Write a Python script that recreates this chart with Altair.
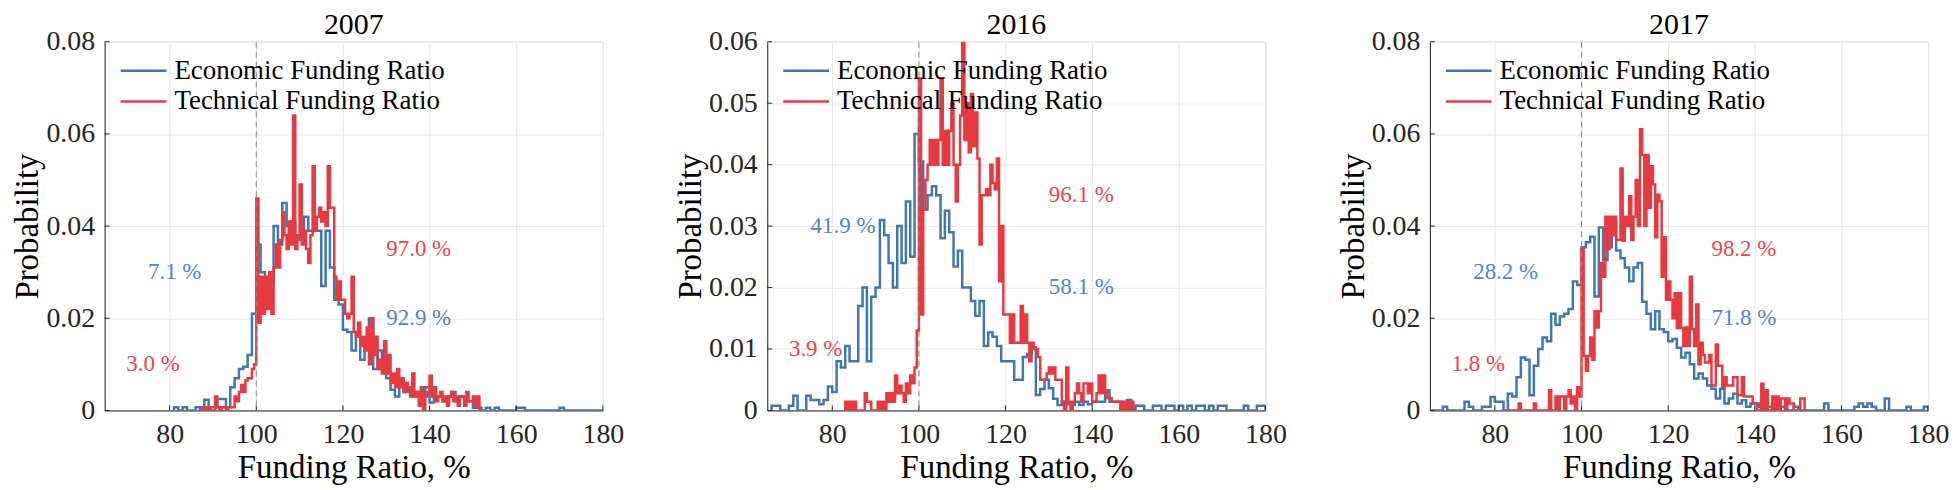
import altair as alt
import pandas as pd

FONT = "Liberation Serif"
BLUE = "#3f77b1"
RED = "#e63a40"
BLUE_TXT = "#4f86bf"
RED_TXT = "#ec434a"

years = ["2007", "2016", "2017"]
y_max = [0.08, 0.06, 0.08]
y_ticks = [[0, 0.02, 0.04, 0.06, 0.08],
           [0, 0.01, 0.02, 0.03, 0.04, 0.05, 0.06],
           [0, 0.02, 0.04, 0.06, 0.08]]
x_ticks = [80, 100, 120, 140, 160, 180]
x_domain = [65, 180]
series_names = ["Economic Funding Ratio", "Technical Funding Ratio"]

# histogram bin heights, in units of 0.001 (probability per bin)
econ_width = 1.0
tech_width = 0.5

econ_2007_start = 81
econ_2007 = [0.7, 0, 0.7, 0, 0, 0.7, 0, 2.3, 0.7, 0.7, 2.5, 2.5, 0.7, 5, 7, 9, 9.5, 12, 21,
             36, 30, 23, 28, 40, 36, 45, 40, 41, 38, 37, 42, 39, 39, 39, 27, 39, 31, 24, 23,
             17.5, 17, 13, 17, 11, 15, 20, 9, 13, 10,
             7, 4.5, 3, 6.7, 4, 5, 3, 4, 3, 5, 1.7, 3, 3, 2, 3, 4, 2, 3, 2, 2,
             0.6, 0.6, 0, 0.6, 0, 0.6, 0, 0, 0, 0, 0.6, 0.6, 0, 0, 0, 0, 0, 0, 0, 0,
             0.6, 0, 0, 0, 0, 0, 0, 0, 0, 0]
tech_2007_start = 87.5
tech_2007 = [0.7, 0.7, 0, 0.7, 0, 0, 3, 0.7, 0, 0.7, 0.7, 0, 0.7, 0.7, 0.7, 3, 2, 4, 5.5, 4,
             6.5, 7, 7, 9, 10,
             46, 19, 29, 21, 29, 22, 30, 21, 31, 36, 31, 37, 43, 38, 35, 41, 36, 64, 35, 38,
             49, 36, 39, 35, 32, 38, 53, 39, 42, 44, 41, 43, 40, 53, 44, 44,
             29, 24, 28, 24, 24, 21, 20, 21, 29, 17, 16, 19, 14, 16, 13, 18, 10, 20, 12, 16,
             9, 11, 8, 15, 8, 12, 6, 8, 5, 9, 5, 7, 4, 6, 5, 3, 8, 3, 4, 1,
             5, 0, 3, 4, 7.5, 3, 5, 2, 3, 4, 2, 3, 1, 3, 4, 2, 3, 1, 3, 3,
             1, 4, 2, 2, 3, 1, 3, 0]

econ_2016_start = 66
econ_2016 = [0.75, 0.75, 0, 0, 0.75, 2.4, 0, 0, 2.4, 1.7,
             1.7, 1, 1.7, 3.9, 3, 8, 7, 10.5, 8, 8,
             17, 20, 8, 18.5, 20, 31, 28.5, 24, 20, 30,
             24, 34, 25, 45,
             40.5, 32.7, 35, 36.5, 35, 28, 32.5, 29, 23.4, 26,
             20, 20, 17.8, 15.4, 17.8, 10.5, 12.7, 12, 10.5, 8,
             8, 8, 5, 5, 8.7, 9.2, 10.3, 2.5, 3.5, 5, 3.6, 1.9,
             0.9, 1.4, 1, 0.9, 1.4, 0.9, 1.4, 1, 1.4, 1.4,
             1.4, 3.3, 1.4, 1.4, 1.4, 0.75, 1.7, 0, 0.75, 0.75,
             0, 0, 0.75, 0.75, 0, 0.75, 0.75, 0, 0.75, 0,
             0.75, 0, 0.75, 0.75, 0, 0.75, 0, 0.75, 0.75, 0,
             0, 0, 0, 0.75, 0, 0, 0.75, 0.75]
tech_2016_start = 83
tech_2016 = [1.4, 0, 1.4, 0, 1.4, 0, 0, 0, 0, 2.8,
             1.4, 1.4, 0, 0, 0, 1.4, 0, 1.4, 0, 2.8,
             1.4, 2.8, 1.4, 5.7, 2.8, 4, 2.8, 1.4, 4.4, 2.8,
             5.7, 4.4, 7, 13,
             54, 15.6, 32.7, 37.5, 40, 44, 40, 44, 40, 44,
             54, 40, 45.5, 40, 45.5, 50, 40, 34, 40, 48,
             60, 44, 50, 42, 51.5, 43, 48.5, 41, 27, 35,
             35, 36, 35, 40, 37, 36, 41, 21, 30, 15.6,
             15.6, 15.6, 11, 15.6, 11, 11, 11, 17, 11, 15.6,
             11, 8, 11, 10, 10, 8.7, 5, 5, 5, 6,
             7, 6, 7, 5, 5, 5, 1.4, 0, 7, 1.4,
             0, 1.4, 2.8, 4.4, 2.8, 1.4, 4.4, 4.4, 2.8, 4.4,
             1.4, 1.4, 2.8, 5.7, 2.8, 5.7, 3, 2, 2, 1.4,
             1.4, 1.4, 1.4, 0, 1.4, 0, 1.4, 0, 1.4, 0]

econ_2017_start = 65
econ_2017 = [0, 0, 0, 0.8, 0, 0, 0, 0, 1.9, 0.8,
             0, 0, 0.8, 0.8, 2.9, 1.9, 1.9, 0, 3.6, 3,
             7.2, 11.5, 11, 3.3, 9.7, 13.3, 15.8, 15, 21, 18.6,
             20.4, 21, 22, 28, 27.2, 35.4, 36.5, 37.7, 24.7, 39.7,
             32.6, 35.4, 41, 34.7, 33, 31, 28, 31, 32, 23.6,
             21, 17.6, 21.5, 17.6, 17, 15, 15.5, 13.6, 11.5, 12.5,
             10, 6.9, 8, 6.9, 5.4, 4.7, 2.6, 4.7, 1.5, 2.6,
             3.6, 1.5, 2.2, 0.8, 1.5, 1.5, 0.8, 0, 0.8, 0.8,
             0.8, 0.8, 0, 0, 0.8, 0, 0, 0, 0, 0,
             0, 1.5, 0, 0, 0, 0, 0, 0, 0.8, 1.5,
             0.8, 1.5, 0.8, 0, 0, 2.6, 0, 0, 0, 0,
             0.8, 0, 0, 0, 0.8]
tech_2017_start = 82
tech_2017 = [0, 0, 0, 0, 0, 0, 0, 1.5, 0, 0,
             0, 0, 0, 0, 1.5, 0, 0, 0, 0, 0,
             0, 4.4, 0, 0, 3, 0, 3, 3, 0, 3,
             4.4, 1.5, 3, 0, 5, 3,
             35, 11.8, 8.6, 11.8, 15.8, 11, 21.5, 18, 21.5, 32,
             29, 42, 35, 42, 38, 42, 37, 37, 52.5, 36.8,
             42, 40, 46.5, 37, 42, 50, 40, 61, 55.4, 40,
             55.4, 44, 53, 49, 37.6, 46.8, 45.4, 29, 37.6, 24,
             28, 24, 20, 25.4, 17.9, 25.4, 17.9, 14, 18, 14,
             29, 17.6, 14, 23, 10, 14.7, 12, 10.4, 10.4, 12,
             5.4, 5.4, 14.3, 9.7, 9.7, 5, 7.2, 5.4, 5.4, 5.4,
             7.2, 7.2, 3.3, 3.3, 7.2, 3, 3, 3, 3, 1.5,
             1.5, 0, 0, 5.8, 0, 4.4, 0, 0, 3, 0,
             3, 0, 2.6, 2.6, 0, 2.6, 1.5, 1.5, 0, 0,
             0, 2.6, 2.6, 0]

econ_starts = [econ_2007_start, econ_2016_start, econ_2017_start]
econ_values = [econ_2007, econ_2016, econ_2017]
tech_starts = [tech_2007_start, tech_2016_start, tech_2017_start]
tech_values = [tech_2007, tech_2016, tech_2017]

# share annotations: below / above 100 %
note_texts = [["7.1 %", "3.0 %", "97.0 %", "92.9 %"],
              ["41.9 %", "3.9 %", "96.1 %", "58.1 %"],
              ["28.2 %", "1.8 %", "98.2 %", "71.8 %"]]
note_x = [75, 70, 130, 130]
note_y = [0.03, 0.01, 0.035, 0.02]
note_series = [0, 1, 1, 0]
threshold = 100

W, H = 500, 370


def stairs(start, width, heights, name):
    rows = [{"x": start, "y": 0.0, "series": name, "i": 0}]
    for k, h in enumerate(heights):
        rows.append({"x": start + k * width, "y": h / 1000.0, "series": name, "i": k + 1})
    rows.append({"x": start + len(heights) * width, "y": 0.0, "series": name,
                 "i": len(heights) + 1})
    return rows


def panel(idx):
    df = pd.DataFrame(
        stairs(econ_starts[idx], econ_width, econ_values[idx], series_names[0])
        + stairs(tech_starts[idx], tech_width, tech_values[idx], series_names[1])
    )
    xs = alt.Scale(domain=x_domain, nice=False, zero=False)
    ys = alt.Scale(domain=[0, y_max[idx]], nice=False)
    x_axis = alt.Axis(values=x_ticks, title="Funding Ratio, %", format="d")
    y_axis = alt.Axis(values=y_ticks[idx], title="Probability",
                      labelExpr="datum.value == 0 ? '0' : format(datum.value, '.2f')")

    def X(field):
        return alt.X(field, scale=xs, axis=x_axis, title="Funding Ratio, %")

    def Y(field):
        return alt.Y(field, scale=ys, axis=y_axis, title="Probability")

    legend = alt.Legend(
        title=None, orient="top-left", offset=14, padding=0,
        symbolType="M-1.7,0H1.7", symbolSize=729, symbolStrokeWidth=2.5,
        symbolOffset=10, labelOffset=16, rowPadding=3,
        labelFont=FONT, labelFontSize=27, labelLimit=600, labelColor="black",
    )

    lines = alt.Chart(df).mark_line(
        interpolate="step-after", strokeWidth=2.5, clip=True, strokeJoin="miter"
    ).encode(
        x=X("x:Q"),
        y=Y("y:Q"),
        color=alt.Color("series:N",
                        scale=alt.Scale(domain=series_names, range=[BLUE, RED]),
                        legend=legend),
        order="i:Q",
        detail="series:N",
    )

    dash = alt.Chart(pd.DataFrame({"x": [threshold]})).mark_rule(
        strokeDash=[6, 4], color="#8a8a8a", strokeWidth=1
    ).encode(x=X("x:Q"))

    xt = alt.Chart(pd.DataFrame({"t": x_ticks})).mark_rule(
        color="#262626", strokeWidth=1
    ).encode(x=X("t:Q"), y=alt.value(H), y2=alt.value(H - 5))
    yt = alt.Chart(pd.DataFrame({"t": y_ticks[idx]})).mark_rule(
        color="#262626", strokeWidth=1
    ).encode(y=Y("t:Q"), x=alt.value(0), x2=alt.value(5))

    notes = pd.DataFrame({
        "x": note_x, "y": note_y, "label": note_texts[idx],
        "c": [BLUE_TXT if s == 0 else RED_TXT for s in note_series],
    })
    text = alt.Chart(notes).mark_text(
        align="left", baseline="middle", font=FONT, fontSize=23
    ).encode(
        x=X("x:Q"),
        y=Y("y:Q"),
        text="label:N",
        color=alt.Color("c:N", scale=None, legend=None),
    )

    return alt.layer(lines, xt, yt, dash, text).properties(
        width=W, height=H,
        title=alt.TitleParams(years[idx], font=FONT, fontSize=30, fontWeight="normal",
                              color="black", offset=-12, frame="group"),
    )


chart = alt.hconcat(
    panel(0), panel(1), panel(2), spacing=165, bounds="flush"
).resolve_scale(
    x="independent", y="independent", color="independent"
).resolve_legend(
    color="independent"
).properties(
    padding={"left": 3, "top": 0, "right": 0, "bottom": 0}
).configure_view(
    stroke="#d6d6d6", strokeWidth=1
).configure_axis(
    labelFont=FONT, labelFontSize=28, labelColor="#262626",
    titleFont=FONT, titleFontSize=33, titleFontWeight="normal", titleColor="black",
    gridColor="#e6e6e6", gridWidth=1, domainColor="#262626", domainWidth=1,
    tickSize=0, labelPadding=10, labelFlush=False, labelOverlap=False,
).configure_axisX(
    titlePadding=3
).configure_axisY(
    titlePadding=1
)

chart.save("out.html", embed_options={"renderer": "svg", "actions": False})
